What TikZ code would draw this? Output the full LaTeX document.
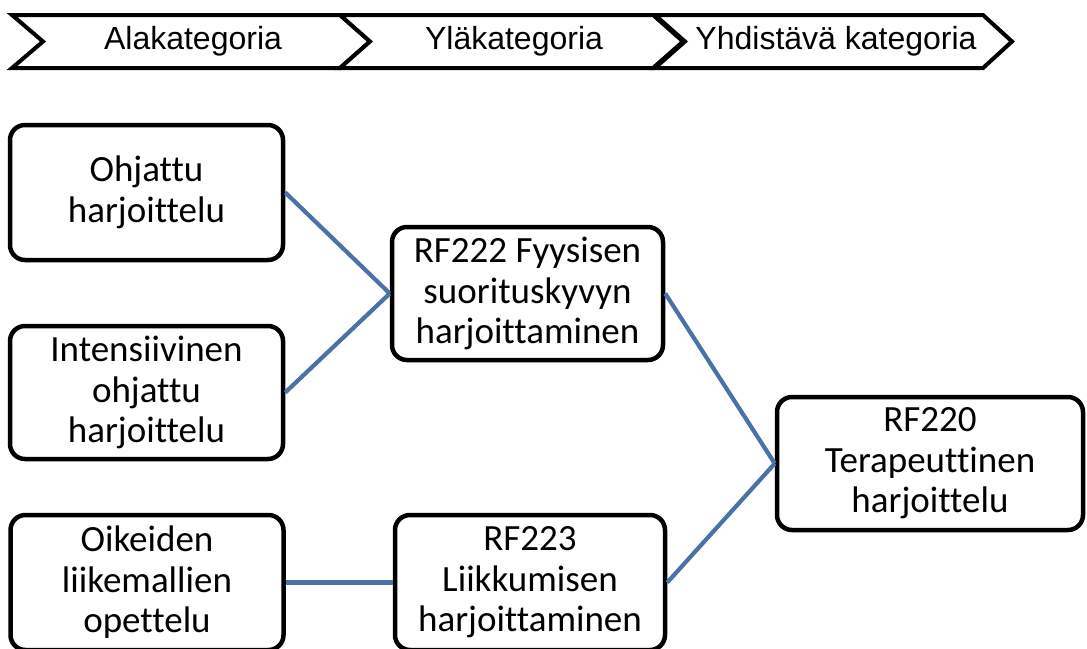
\documentclass[tikz,border=0pt]{standalone}
\usepackage{fontspec}
\setmainfont{Carlito}[Ligatures=NoCommon]
\newfontfamily\chevfont{Liberation Sans}
\definecolor{connblue}{RGB}{74,114,168}
\tikzset{
  catbox/.style={draw=black, line width=4.5pt, rounded corners=15pt, fill=white,
    align=center, font=\fontsize{37}{40.5}\selectfont, inner sep=0pt},
  chev/.style={draw=black, line width=4pt, line join=miter, fill=white},
  chevtext/.style={font=\chevfont\fontsize{32}{36}\selectfont, inner sep=0pt},
  conn/.style={draw=connblue, line width=4.2pt}
}
\begin{document}
\begin{tikzpicture}[x=1pt, y=-1pt]
\useasboundingbox (0,0) rectangle (1087,648);
% chevrons
\draw[chev] (12,15) -- (340,15) -- (370,41.5) -- (340,68) -- (12,68) -- (43,41.5) -- cycle;
\draw[chev] (340,15) -- (653,15) -- (683,41.5) -- (653,68) -- (340,68) -- (370,41.5) -- cycle;
\draw[chev] (655,15) -- (983,15) -- (1012,41.5) -- (983,68) -- (655,68) -- (685,41.5) -- cycle;
\node[chevtext] (c1) at (193,41.5) {Alakategoria};
\node[chevtext] (c2) at (514,41.5) {Yläkategoria};
\node[chevtext] (c3) at (836,41.5) {Yhdistävä kategoria};
% boxes
\node[catbox, minimum width=273pt, minimum height=135pt] (b1) at (146.5,192.5) {Ohjattu\\harjoittelu};
\node[catbox, minimum width=273pt, minimum height=133pt] (b2) at (146.5,392.5) {Intensiivinen\\ohjattu\\harjoittelu};
\node[catbox, minimum width=273pt, minimum height=135pt] (b3) at (147,582.5) {Oikeiden\\liikemallien\\opettelu};
\node[catbox, minimum width=271pt, minimum height=133pt] (b4) at (527.5,293.5) {RF222 Fyysisen\\suorituskyvyn\\harjoittaminen};
\node[catbox, minimum width=270pt, minimum height=135pt] (b5) at (530,582.5) {RF223\\Liikkumisen\\harjoittaminen};
\node[catbox, minimum width=306pt, minimum height=133pt] (b6) at (930,463.5) {RF220\\Terapeuttinen\\harjoittelu};
% connectors
\draw[conn] (b1.east) -- (b4.west);
\draw[conn] (b2.east) -- (b4.west);
\draw[conn] (b3.east) -- (b5.west);
\draw[conn] (b4.east) -- (b6.west);
\draw[conn] (b5.east) -- (b6.west);
\end{tikzpicture}
\end{document}
